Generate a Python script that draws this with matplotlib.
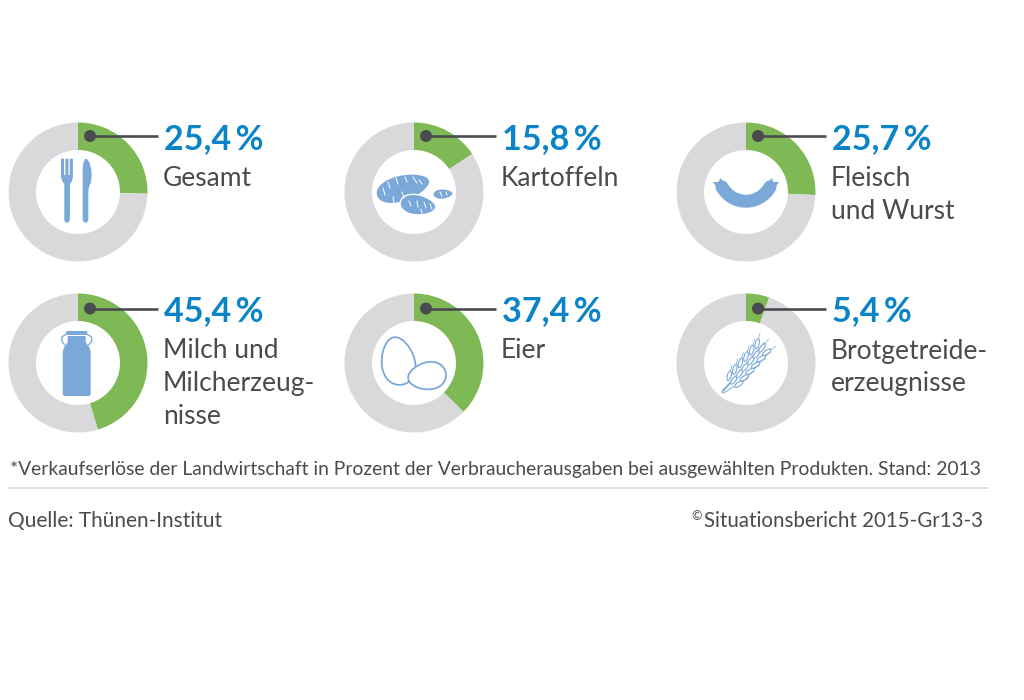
import numpy as np
import matplotlib
matplotlib.use('Agg')
import matplotlib.pyplot as plt
from matplotlib.patches import Ellipse, Circle, Polygon, FancyBboxPatch, PathPatch
from matplotlib.path import Path

plt.rcParams['font.family'] = ['Lato', 'DejaVu Sans']

names = ['Gesamt', 'Kartoffeln', 'Fleisch\nund Wurst',
         'Milch und\nMilcherzeug-\nnisse', 'Eier', 'Brotgetreide-\nerzeugnisse']
shares = [25.4, 15.8, 25.7, 45.4, 37.4, 5.4]
footnote = ('*Verkaufserlöse der Landwirtschaft in Prozent der Verbraucherausgaben '
            'bei ausgewählten Produkten. Stand: 2013')
source = 'Quelle: Thünen-Institut'
credit = 'Situationsbericht 2015-Gr13-3'

# layout in pixels
col_x = [78, 414, 746]
row_y = [192, 363]
text_x = [163, 501, 831]

GREEN = '#7fb955'
GREY = '#d9d9db'
BLUE = '#0a84c6'
DARK = '#4a4a4f'
ICON = '#7aa9d9'
PX = 0.72  # one pixel in points at dpi 100

fig = plt.figure(figsize=(10.24, 7), dpi=100)
ax = fig.add_axes([0, 0, 1, 1])


def egg(cx, cy, length, width, angle):
    t = np.linspace(0, 2 * np.pi, 80)
    x = length * np.cos(t)
    y = width * np.sin(t) * (1 - 0.16 * np.cos(t))
    a = np.radians(angle)
    return np.column_stack([cx + x * np.cos(a) - y * np.sin(a),
                            cy + x * np.sin(a) + y * np.cos(a)])


def icon_cutlery(cx, cy):
    fork = [(-17, -33), (-15.5, -33.5), (-14, -33), (-13.9, -17), (-12.6, -17), (-12.6, -33),
            (-11, -33.5), (-9.5, -33), (-9.5, -17), (-8.2, -17), (-8.2, -33), (-6.6, -33.5),
            (-5.1, -33), (-5.1, -15), (-6, -11), (-8, -8), (-8.2, 28), (-9.5, 30.5), (-12.5, 30.5),
            (-13.7, 28), (-13.7, -8), (-15.8, -11), (-17, -15)]
    ax.add_patch(Polygon([(cx + x, cy + y) for x, y in fork], fc=ICON, ec='none'))
    knife = [(4.7, 28), (4.7, -22), (5.2, -29), (7, -33), (9, -33), (11.5, -29), (13.2, -23),
             (13.7, -17), (13, -10), (11, -5), (10.3, -1), (10.3, 28), (9, 30.5), (6, 30.5)]
    ax.add_patch(Polygon([(cx + x, cy + y) for x, y in knife], fc=ICON, ec='none'))


def icon_potatoes(cx, cy):
    ax.add_patch(Polygon(egg(cx - 11, cy - 4, 27, 12.5, -16), fc=ICON, ec='none'))
    ax.add_patch(Polygon(egg(cx + 4, cy + 13, 18, 10, 8), fc=ICON, ec='white', lw=1))
    ax.add_patch(Polygon(egg(cx + 29, cy + 2, 9.5, 4.5, -3), fc=ICON, ec='none'))
    dashes = [(-31, -4, -29, 3), (-26, -10, -24, -4), (-18, -14, -16, -8), (-9, -15, -7, -10),
              (-1, -15, 3, -9), (5, -12, 8, -8), (-21, 5, -20, 11), (-12, 0, -10, 6),
              (-5, 9, -3, 14), (3, 9, 4, 15), (10, 10, 12, 16), (16, 12, 18, 17),
              (26, 0, 28, 4), (32, 0, 33, 3), (7, 17, 8, 21)]
    for x0, y0, x1, y1 in dashes:
        ax.plot([cx + x0, cx + x1], [cy + y0, cy + y1], color='white', lw=0.7)


def icon_sausage(cx, cy):
    verts = [(cx - 24, cy - 5), (cx - 13, cy + 14), (cx + 13, cy + 14), (cx + 24, cy - 5)]
    ax.add_patch(PathPatch(Path(verts, [Path.MOVETO, Path.CURVE4, Path.CURVE4, Path.CURVE4]),
                           fc='none', ec=ICON, lw=13 * PX, capstyle='round'))
    for s in (-1, 1):
        tip = [(cx + s * 20, cy - 8), (cx + s * 26, cy - 14), (cx + s * 27, cy - 10),
               (cx + s * 33, cy - 10), (cx + s * 29, cy - 4)]
        ax.add_patch(Polygon(tip, fc=ICON, ec='none'))


def icon_can(cx, cy):
    cx = cx - 1.3
    ax.add_patch(FancyBboxPatch((cx - 14, cy - 12), 28, 45, boxstyle='round,pad=0,rounding_size=2.5',
                                fc=ICON, ec='none'))
    neck = [(cx - 14, cy - 11), (cx - 13, cy - 15), (cx - 9, cy - 21), (cx - 9, cy - 27), (cx + 9, cy - 27),
            (cx + 9, cy - 21), (cx + 13, cy - 15), (cx + 14, cy - 11)]
    ax.add_patch(Polygon(neck, fc=ICON, ec='none'))
    ax.add_patch(FancyBboxPatch((cx - 10.5, cy - 32), 21, 4, boxstyle='round,pad=0,rounding_size=1',
                                fc=ICON, ec='none'))
    handle = [(cx - 12, cy - 18), (cx - 15, cy - 22), (cx - 15, cy - 26), (cx - 10, cy - 29),
              (cx + 10, cy - 29), (cx + 15, cy - 26), (cx + 15, cy - 22), (cx + 12, cy - 18)]
    ax.plot([p[0] for p in handle], [p[1] for p in handle], color=ICON, lw=1.3 * PX)


def icon_eggs(cx, cy):
    ax.add_patch(Polygon(egg(cx - 16, cy - 2, 24, 16.5, -100), fc='white', ec=ICON, lw=1.3))
    ax.add_patch(Polygon(egg(cx + 13, cy + 13, 19, 13.5, 172), fc='white', ec=ICON, lw=1.3))


def icon_wheat(cx, cy):
    # stalk
    ax.plot([cx - 24, cx + 18], [cy + 30, cy - 20], color=ICON, lw=0.8)
    ax.plot([cx - 24, cx - 5], [cy + 28, cy + 8], color=ICON, lw=0.7)
    ax.plot([cx - 22, cx + 2], [cy + 30, cy + 14], color=ICON, lw=0.7)
    # grains in three rows with their awns
    for off in (-6, 0, 6):
        for k in range(6):
            gx = cx - 12 + off * 0.8 + k * 5.6
            gy = cy + 17 + off * 0.7 - k * 6.4
            angle = -54 + off * 3.5
            a = np.radians(angle)
            ax.add_patch(Ellipse((gx, gy), 10, 3.8, angle=angle, fc='white', ec=ICON, lw=0.8, zorder=3))
            ax.plot([gx + 5 * np.cos(a), gx + 11 * np.cos(a)],
                    [gy + 5 * np.sin(a), gy + 11 * np.sin(a)], color=ICON, lw=0.5, zorder=2)


icons = [icon_cutlery, icon_potatoes, icon_sausage, icon_can, icon_eggs, icon_wheat]

for i, share in enumerate(shares):
    cx = col_x[i % 3]
    cy = row_y[i // 3]
    tx = text_x[i % 3]
    # y axis points down, so this runs clockwise from the top
    ax.pie([share, 100 - share], colors=[GREEN, GREY], startangle=-90, counterclock=True,
           center=(cx, cy), radius=69.5, wedgeprops=dict(width=27.5, lw=0))
    icons[i](cx, cy)

    # leader line with its dot
    ly = cy - 56 if i < 3 else cy - 54.5
    ax.plot([cx + 12, tx - 5], [ly, ly], color=DARK, lw=2.6 * PX, solid_capstyle='butt', zorder=5)
    ax.add_patch(Circle((cx + 12, ly), 6, fc=DARK, ec='none', zorder=6))

    value = f'{share:.1f}'.replace('.', ',') + '\u2009%'
    ax.text(tx + 1, cy - 53 if i < 3 else cy - 52, value, color=BLUE, fontsize=24.6, fontweight='bold',
            va='center', ha='left')
    for j, line in enumerate(names[i].split('\n')):
        ax.text(tx, (cy - 13 if i < 3 else cy - 12) + j * 32.5, line, color=DARK, fontsize=19,
                va='center', ha='left')

ax.set_xlim(0, 1024)
ax.set_ylim(700, 0)
ax.set_aspect('auto')
ax.axis('off')

ax.text(10, 469, footnote, color=DARK, fontsize=13.9, va='center', ha='left')
ax.plot([8, 988], [488, 488], color='#d3d3d3', lw=1.5 * PX)
ax.text(8, 521, source, color=DARK, fontsize=15, va='center', ha='left')
ax.text(983, 521, credit, color=DARK, fontsize=14.8, va='center', ha='right')
ax.text(691, 516, '©', color=DARK, fontsize=9, va='center', ha='left')

fig.savefig('out.png', dpi=100)
